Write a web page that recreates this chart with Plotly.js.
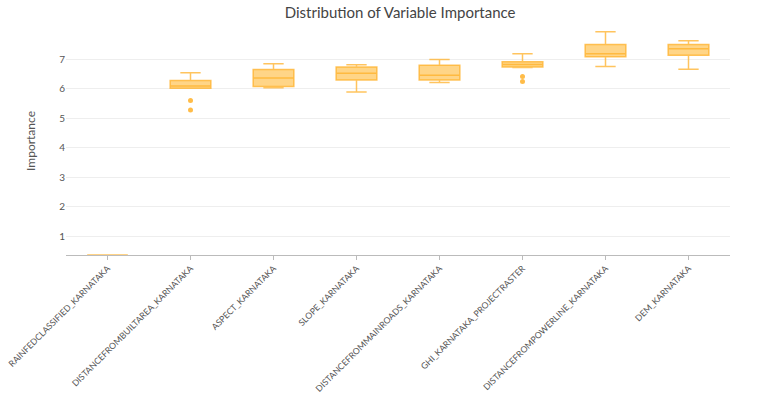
<!DOCTYPE html>
<html>
<head>
<meta charset="utf-8">
<script src="https://cdn.plot.ly/plotly-3.0.1.min.js"></script>
<style>html,body{margin:0;padding:0;background:#fff;}#chart{width:768px;height:397px;}</style>
</head>
<body>
<div id="chart"></div>
<script>
const categories = [
  "RAINFEDCLASSIFIED_KARNATAKA",
  "DISTANCEFROMBUILTAREA_KARNATAKA",
  "ASPECT_KARNATAKA",
  "SLOPE_KARNATAKA",
  "DISTANCEFROMMAINROADS_KARNATAKA",
  "GHI_KARNATAKA_PROJECTRASTER",
  "DISTANCEFROMPOWERLINE_KARNATAKA",
  "DEM_KARNATAKA"
];
const lowerFence = [0.37, 6.02, 6.04, 5.90, 6.22, 6.73, 6.76, 6.67];
const q1Values   = [0.37, 6.02, 6.08, 6.30, 6.30, 6.74, 7.09, 7.14];
const medians    = [0.37, 6.10, 6.37, 6.53, 6.46, 6.83, 7.19, 7.36];
const q3Values   = [0.37, 6.29, 6.66, 6.74, 6.80, 6.92, 7.51, 7.51];
const upperFence = [0.37, 6.55, 6.85, 6.82, 7.00, 7.19, 7.94, 7.63];
const outlierCats = ["DISTANCEFROMBUILTAREA_KARNATAKA", "DISTANCEFROMBUILTAREA_KARNATAKA",
                     "GHI_KARNATAKA_PROJECTRASTER", "GHI_KARNATAKA_PROJECTRASTER"];
const outlierVals = [5.61, 5.29, 6.42, 6.25];

const orangeLine = 'rgba(255,176,40,0.75)';
const orangeFill = 'rgba(255,190,70,0.65)';

const traces = [
  {
    type: 'box',
    x: categories,
    q1: q1Values,
    median: medians,
    q3: q3Values,
    lowerfence: lowerFence,
    upperfence: upperFence,
    fillcolor: orangeFill,
    line: {color: orangeLine, width: 1.5},
    whiskerwidth: 0.5,
    boxpoints: false,
    showlegend: false,
    hoverinfo: 'y'
  },
  {
    type: 'scatter',
    mode: 'markers',
    x: outlierCats,
    y: outlierVals,
    marker: {color: 'rgba(255,176,40,0.85)', size: 5},
    showlegend: false,
    hoverinfo: 'y'
  }
];

const layout = {
  width: 768,
  height: 397,
  margin: {l: 66, r: 38, t: 27, b: 142},
  paper_bgcolor: '#fff',
  plot_bgcolor: '#fff',
  font: {family: 'Lato, "Noto Sans", sans-serif', color: '#555', size: 11},
  title: {text: 'Distribution of Variable Importance', font: {size: 15, color: '#444', family: 'Lato, sans-serif'}, x: 0.521, xanchor: 'center', y: 0.982, yanchor: 'top'},
  xaxis: {
    type: 'category',
    categoryorder: 'array',
    categoryarray: categories,
    tickangle: -45,
    showline: true,
    linecolor: '#bbb',
    linewidth: 1,
    ticks: 'outside',
    ticklen: 4,
    tickcolor: '#bbb',
    showgrid: false,
    tickfont: {size: 8.7, color: '#555'}
  },
  yaxis: {
    title: {text: 'Importance', font: {size: 12, color: '#555'}, standoff: 20},
    range: [0.37, 8.1],
    tickvals: [1, 2, 3, 4, 5, 6, 7],
    showgrid: true,
    gridcolor: '#eeeeee',
    zeroline: false,
    showline: false,
    tickfont: {size: 10, color: '#555'}
  }
};

Plotly.newPlot('chart', traces, layout, {displayModeBar: false, staticPlot: true});
</script>
</body>
</html>
